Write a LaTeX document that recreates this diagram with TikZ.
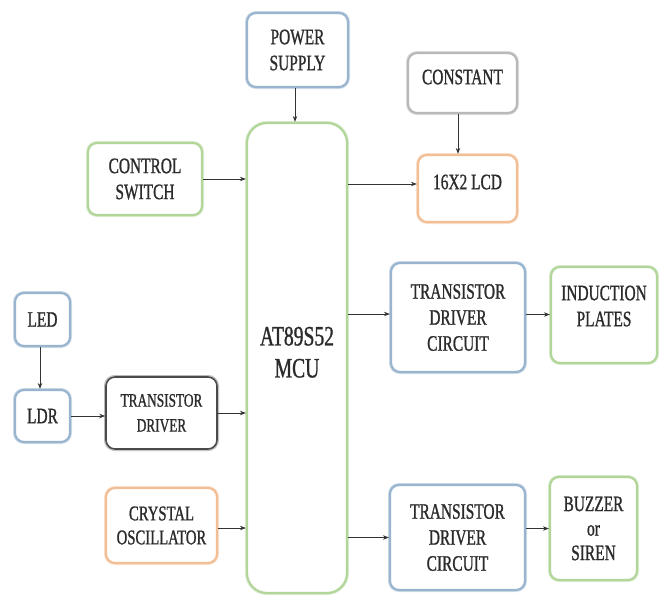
\documentclass[tikz,border=0pt]{standalone}
\usepackage{fontspec}
\setmainfont{Liberation Serif}
\newfontfamily\condserif{Liberation Serif}[FakeStretch=0.7,FakeBold=1]
\usetikzlibrary{arrows.meta}
\definecolor{cblue}{HTML}{98B4CE}
\definecolor{cgreen}{HTML}{B2D69A}
\definecolor{corange}{HTML}{F2BE96}
\definecolor{cgray}{HTML}{B8B8B8}
\definecolor{cdark}{HTML}{4A4A4A}
\definecolor{txt}{HTML}{2B2B2B}
\definecolor{lin}{HTML}{333333}
\newcommand\liftxt[2]{\raisebox{#1}[\height][\depth]{\begin{tabular}{@{}c@{}}#2\end{tabular}}}
\tikzset{
  box/.style={draw, rounded corners=9pt, line width=2.2pt, fill=white, align=center,
    text=txt, font=\condserif\fontsize{22}{26}\selectfont, inner sep=0pt,
    preaction={draw=#1!45, line width=4pt}},
  bbox/.style={box=cblue, draw=cblue},
  gbox/.style={box=cgreen, draw=cgreen},
  obox/.style={box=corange, draw=corange},
  graybox/.style={box=cgray, draw=cgray},
  dbox/.style={box=cdark, draw=cdark, line width=1.6pt, preaction={draw=cdark!25, line width=3pt}},
  arr/.style={-{Stealth[length=6pt,width=4.5pt]}, line width=0.9pt, draw=lin}
}
\begin{document}
\begin{tikzpicture}[x=1pt,y=-1pt]
\useasboundingbox (0,0) rectangle (659,598);
% nodes
\node[bbox, minimum width=101pt, minimum height=74pt] (ps) at (297.5,50) {POWER\\SUPPLY};
\node[gbox, rounded corners=20pt, minimum width=100pt, minimum height=470pt,
  font=\condserif\fontsize{28}{32}\selectfont] (mcu) at (297,358) {\liftxt{3pt}{AT89S52\\MCU}};
\node[gbox, minimum width=114pt, minimum height=72pt] (cs) at (145,179) {CONTROL\\SWITCH};
\node[graybox, minimum width=109pt, minimum height=60pt] (const) at (462.5,83) {\liftxt{4pt}{CONSTANT}};
\node[obox, minimum width=99pt, minimum height=67pt] (lcd) at (467.5,188.5) {\liftxt{4.5pt}{16X2 LCD}};
\node[bbox, minimum width=134pt, minimum height=109pt] (tdc1) at (458,317.5) {TRANSISTOR\\DRIVER\\CIRCUIT};
\node[gbox, minimum width=106pt, minimum height=96pt] (ip) at (604,315) {\liftxt{7pt}{INDUCTION\\PLATES}};
\node[bbox, minimum width=135pt, minimum height=105pt] (tdc2) at (457.5,537.5) {TRANSISTOR\\DRIVER\\CIRCUIT};
\node[gbox, minimum width=87pt, minimum height=103pt, font=\condserif\fontsize{22}{24.5}\selectfont] (buz) at (593.5,528.5) {BUZZER\\or\\SIREN};
\node[bbox, minimum width=55pt, minimum height=53pt] (led) at (42.5,319.5) {LED};
\node[bbox, minimum width=55pt, minimum height=52pt] (ldr) at (42.5,416) {LDR};
\node[dbox, minimum width=111pt, minimum height=72pt, font=\condserif\fontsize{19}{25}\selectfont] (td) at (161.5,413) {TRANSISTOR\\DRIVER};
\node[obox, minimum width=111pt, minimum height=75pt, font=\condserif\fontsize{21}{24}\selectfont] (cry) at (161.5,525.5) {CRYSTAL\\OSCILLATOR};
% connectors
\draw[arr] ([xshift=-2.5pt]ps.south) -- ([xshift=-2.5pt]ps.south |- mcu.north);
\draw[arr] (cs.east) -- (cs.east -| mcu.west);
\draw[arr] ([yshift=4.5pt]lcd.west -| mcu.east) -- ([yshift=4.5pt]lcd.west);
\draw[arr] ([xshift=-4.5pt]const.south) -- ([xshift=-4.5pt]const.south |- lcd.north);
\draw[arr] ([yshift=3.5pt]tdc1.west -| mcu.east) -- ([yshift=3.5pt]tdc1.west);
\draw[arr] ([yshift=3pt]tdc1.east) -- ([yshift=3pt]tdc1.east -| ip.west);
\draw[arr] (tdc2.west -| mcu.east) -- (tdc2.west);
\draw[arr] (buz.west -| tdc2.east) -- (buz.west);
\draw[arr] ([xshift=-2.5pt]led.south) -- ([xshift=-2.5pt]ldr.north);
\draw[arr] (ldr.east) -- (ldr.east -| td.west);
\draw[arr] (td.east) -- (td.east -| mcu.west);
\draw[arr] ([yshift=-2.5pt]cry.east) -- ([yshift=-2.5pt]cry.east -| mcu.west);
\end{tikzpicture}
\end{document}
